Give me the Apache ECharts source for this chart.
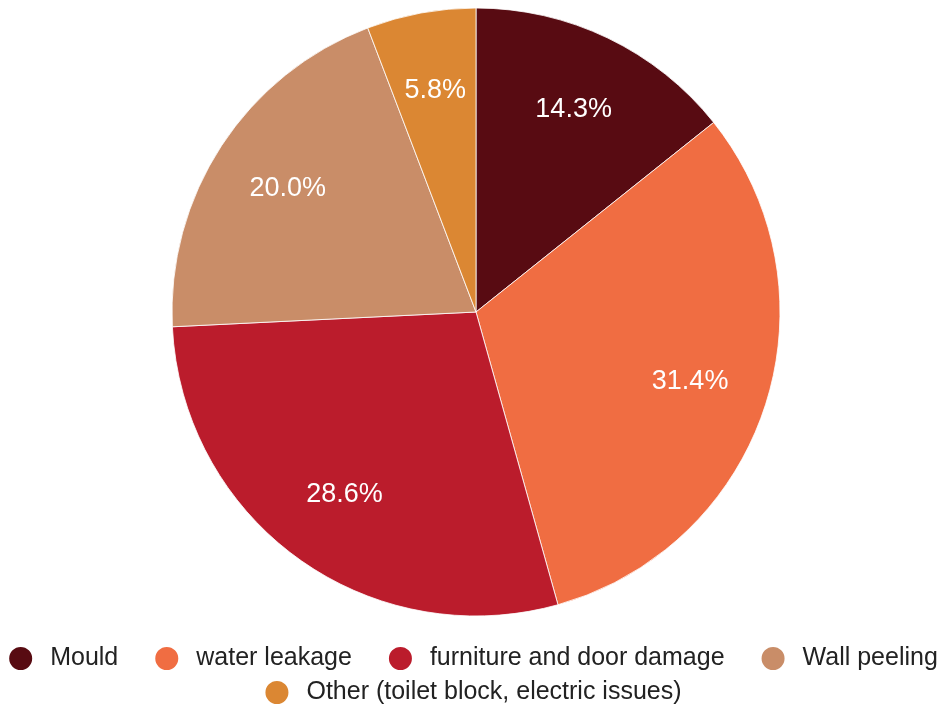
<!DOCTYPE html>
<html>
<head>
<meta charset="utf-8">
<title>Housing issues</title>
<script src="https://cdn.jsdelivr.net/npm/echarts@6/dist/echarts.min.js"></script>
<style>
  html, body { margin: 0; padding: 0; background: #ffffff; }
  #chart { width: 945px; height: 707px; }
</style>
</head>
<body>
<div id="chart"></div>
<script>
// Reported housing issues (share of responses, %)
const categories = [
  'Mould',
  'water leakage',
  'furniture and door damage',
  'Wall peeling',
  'Other (toilet block, electric issues)'
];
const shares = [14.3, 31.4, 28.6, 20.0, 5.8];
const colors = ['#580b12', '#f06d42', '#bb1c2c', '#c98d68', '#db8733'];

const center = [476, 312];
const outerR = 304;

const sliceData = categories.map((name, i) => ({
  name: name,
  value: shares[i],
  itemStyle: { color: colors[i] }
}));

const labelData = categories.map((name, i) => ({
  name: name,
  value: shares[i]
}));

const chart = echarts.init(document.getElementById('chart'), null, { renderer: 'canvas' });

const legendText = {
  color: '#222222',
  fontSize: 25,
  fontFamily: '"Liberation Sans", Arial, sans-serif',
  padding: [0, 0, 0, 12]
};

chart.setOption({
  animation: false,
  backgroundColor: '#ffffff',
  legend: [
    {
      data: categories.slice(0, 4),
      left: 'center',
      top: 645,
      orient: 'horizontal',
      icon: 'circle',
      itemWidth: 25,
      itemHeight: 25,
      itemGap: 35,
      padding: 0,
      textStyle: legendText,
      selectedMode: false
    },
    {
      data: categories.slice(4),
      left: 'center',
      top: 679,
      orient: 'horizontal',
      icon: 'circle',
      itemWidth: 25,
      itemHeight: 25,
      itemGap: 35,
      padding: 0,
      textStyle: legendText,
      selectedMode: false
    }
  ],
  series: [
    {
      type: 'pie',
      name: 'slices',
      center: center,
      radius: [0, outerR],
      startAngle: 90,
      clockwise: true,
      data: sliceData,
      label: { show: false },
      labelLine: { show: false },
      itemStyle: { borderColor: '#ffffff', borderWidth: 0.8 },
      emphasis: { disabled: true }
    },
    {
      type: 'pie',
      name: 'labels',
      center: center,
      radius: [140, outerR],
      startAngle: 90,
      clockwise: true,
      silent: true,
      data: labelData,
      itemStyle: { color: 'rgba(0,0,0,0)' },
      label: {
        show: true,
        position: 'inside',
        color: '#ffffff',
        fontSize: 27,
        fontFamily: '"Liberation Sans", Arial, sans-serif',
        formatter: p => p.value.toFixed(1) + '%'
      },
      labelLine: { show: false },
      emphasis: { disabled: true }
    }
  ]
});
</script>
</body>
</html>
